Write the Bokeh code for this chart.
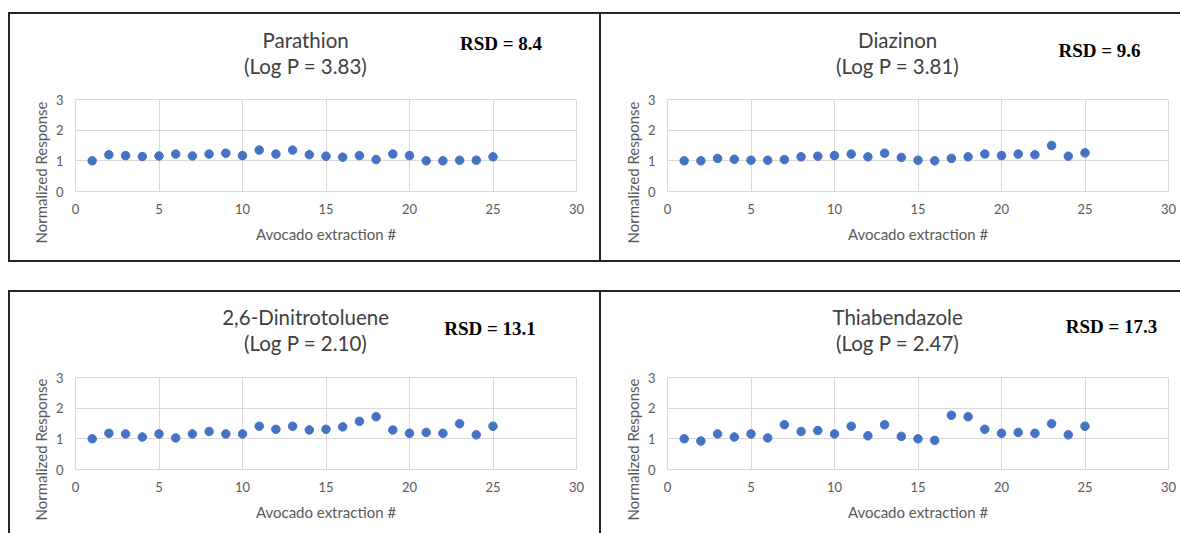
from bokeh.plotting import figure
from bokeh.layouts import column, row
from bokeh.models import Spacer, FixedTicker, ColumnDataSource, Range1d, Title
from bokeh.core.properties import value
from bokeh.embed import file_html
from bokeh.resources import INLINE

# ---------------- data ----------------
extraction = list(range(1, 26))
parathion = [1.00, 1.20, 1.17, 1.14, 1.16, 1.22, 1.16, 1.22, 1.25, 1.17,
             1.35, 1.22, 1.35, 1.20, 1.15, 1.12, 1.17, 1.04, 1.22, 1.17,
             1.00, 1.00, 1.02, 1.02, 1.13]
diazinon = [1.00, 1.00, 1.08, 1.05, 1.02, 1.02, 1.04, 1.13, 1.15, 1.17,
            1.22, 1.13, 1.25, 1.11, 1.02, 1.00, 1.08, 1.13, 1.22, 1.17,
            1.22, 1.20, 1.50, 1.15, 1.26]
dinitrotoluene = [1.00, 1.18, 1.16, 1.06, 1.16, 1.03, 1.16, 1.24, 1.16, 1.16,
                  1.41, 1.31, 1.41, 1.29, 1.31, 1.39, 1.57, 1.72, 1.29, 1.18,
                  1.21, 1.18, 1.49, 1.13, 1.41]
thiabendazole = [1.00, 0.93, 1.16, 1.06, 1.16, 1.03, 1.46, 1.24, 1.27, 1.16,
                 1.41, 1.10, 1.46, 1.08, 1.00, 0.95, 1.77, 1.72, 1.31, 1.18,
                 1.21, 1.18, 1.49, 1.13, 1.41]
compounds = ["Parathion", "Diazinon", "2,6-Dinitrotoluene", "Thiabendazole"]
log_p = ["3.83", "3.81", "2.10", "2.47"]
rsd = ["8.4", "9.6", "13.1", "17.3"]
x_ticks = [0, 5, 10, 15, 20, 25, 30]
y_ticks = [0, 1, 2, 3]
x_label = "Avocado extraction #"
y_label = "Normalized Response"

# ---------------- style / layout ----------------
BLUE = "#4472C4"
GRID = "#d9d9d9"
GREY = "#595959"
EDGE = "#262626"
SANS = "Lato"
HEADER_H = 75
TITLE_X = 13.78


def shadow(top=False, bottom=False, left=False, right=False):
    parts = []
    if top:
        parts.append(f"inset 0 2px 0 0 {EDGE}")
    if bottom:
        parts.append(f"inset 0 -2px 0 0 {EDGE}")
    if left:
        parts.append(f"inset 2px 0 0 0 {EDGE}")
    if right:
        parts.append(f"inset -2px 0 0 0 {EDGE}")
    return ", ".join(parts) if parts else "none"


def header(i, width, mb_left, mb_right, title_y, rsd_xy, edges):
    h = figure(width=width, height=HEADER_H, x_range=Range1d(0, 30),
               y_range=Range1d(HEADER_H, 0), x_axis_type=None, y_axis_type=None,
               output_backend="svg", toolbar_location=None,
               min_border_left=mb_left, min_border_right=mb_right,
               min_border_top=0, min_border_bottom=0,
               border_fill_color=None, background_fill_color=None,
               outline_line_color=None)
    h.title.visible = False
    h.styles = {"box-shadow": shadow(**edges)}
    src = ColumnDataSource(dict(x=[TITLE_X, TITLE_X], y=list(title_y),
                                t=[compounds[i], f"(Log P = {log_p[i]})"]))
    h.text(x="x", y="y", text="t", source=src, text_align="center",
           text_baseline="alphabetic", text_font=value(SANS),
           text_font_size="20.5px", text_color="#404040")
    src2 = ColumnDataSource(dict(x=[rsd_xy[0]], y=[rsd_xy[1]], t=[f"RSD = {rsd[i]}"]))
    h.text(x="x", y="y", text="t", source=src2, text_align="center",
           text_baseline="alphabetic", text_font=value("Liberation Serif"),
           text_font_style="bold", text_font_size="19px", text_color="black")
    return h


def chart(values, width, height, mb_left, mb_right, mb_bottom, label_offset, edges):
    p = figure(width=width, height=height, x_range=(0, 30), y_range=(0, 3),
               output_backend="svg", toolbar_location=None,
               min_border_left=mb_left, min_border_right=mb_right,
               min_border_top=12, min_border_bottom=mb_bottom,
               border_fill_color=None, background_fill_color="white",
               outline_line_color=GRID)
    p.title.visible = False
    p.styles = {"box-shadow": shadow(**edges)}

    p.scatter(extraction, values, size=8.5, color=BLUE, line_color=BLUE)

    for ax, ticks in ((p.xaxis[0], x_ticks), (p.yaxis[0], y_ticks)):
        ax.ticker = FixedTicker(ticks=ticks)
        ax.axis_line_color = None
        ax.major_tick_line_color = None
        ax.minor_tick_line_color = None
        ax.major_tick_out = 0
        ax.major_tick_in = 0
        ax.major_label_text_font = SANS
        ax.major_label_text_font_size = "13px"
        ax.major_label_text_color = GREY
        ax.axis_label_text_font = SANS
        ax.axis_label_text_font_size = "15px"
        ax.axis_label_text_font_style = "normal"
        ax.axis_label_text_color = GREY
    p.xaxis[0].axis_label = x_label
    p.xaxis[0].major_label_standoff = 12
    p.xaxis[0].axis_label_standoff = 8
    p.yaxis[0].major_label_standoff = 12

    # vertical axis title, placed a little below the plot area like Excel does
    p.add_layout(Title(text=y_label, align="left", offset=label_offset, standoff=5,
                       text_font=SANS, text_font_size="15px",
                       text_font_style="normal", text_color=GREY), "left")

    p.xgrid[0].ticker = FixedTicker(ticks=x_ticks)
    p.ygrid[0].ticker = FixedTicker(ticks=y_ticks)
    p.xgrid[0].grid_line_color = GRID
    p.ygrid[0].grid_line_color = GRID
    return p


# top-left
h_tl = header(0, 593, 67, 25, (27.0, 53.8), (25.48, 31.2),
              dict(top=True, left=True, right=True))
c_tl = chart(parathion, 593, 175, 67, 25, 71, -52, dict(left=True, right=True, bottom=True))
# top-right
h_tr = header(1, 579, 66, 12, (27.0, 53.8), (25.87, 37.8), dict(top=True))
c_tr = chart(diazinon, 579, 175, 66, 12, 71, -52, dict(bottom=True))
# bottom-left
h_bl = header(2, 593, 67, 25, (26.8, 52.5), (24.82, 38.2),
              dict(top=True, left=True, right=True))
c_bl = chart(dinitrotoluene, 593, 168, 67, 25, 64, -51, dict(left=True, right=True))
# bottom-right
h_br = header(3, 579, 66, 12, (26.5, 52.5), (26.59, 35.8), dict(top=True))
c_br = chart(thiabendazole, 579, 168, 66, 12, 64, -51, dict())

top_row = row(Spacer(width=8), column(h_tl, c_tl), column(h_tr, c_tr))
bottom_row = row(Spacer(width=8), column(h_bl, c_bl), column(h_br, c_br))
layout = column(Spacer(height=12), top_row, Spacer(height=28), bottom_row)

open("out.html", "w").write(file_html(layout, INLINE))
